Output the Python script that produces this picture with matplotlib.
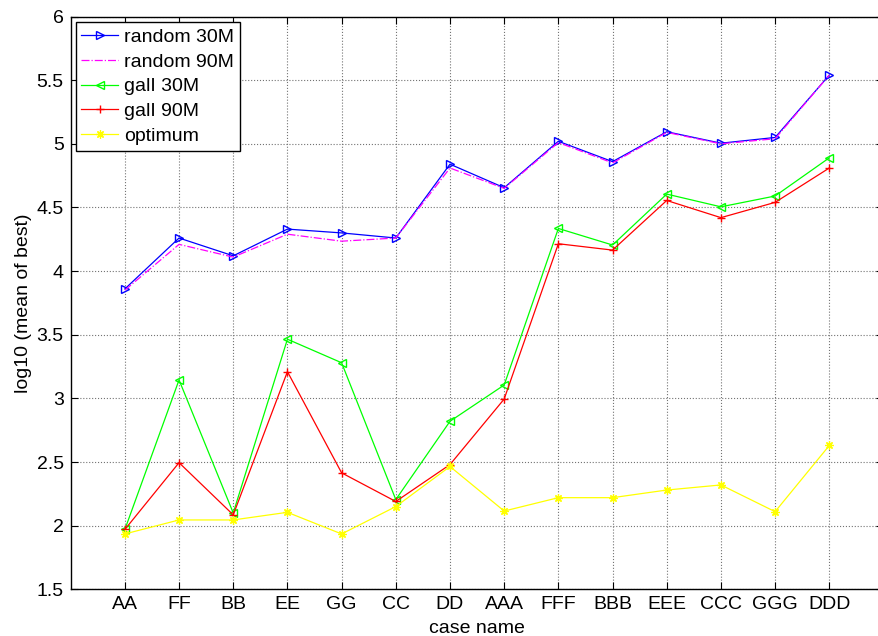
import numpy as np
import matplotlib
matplotlib.use('Agg')
import matplotlib.pyplot as plt

plt.rcParams['font.family'] = ['Liberation Sans', 'DejaVu Sans']

# case names along the x axis
cases = ['AA', 'FF', 'BB', 'EE', 'GG', 'CC', 'DD',
         'AAA', 'FFF', 'BBB', 'EEE', 'CCC', 'GGG', 'DDD']

# log10 of the mean best value per case
random_30m = [3.86, 4.26, 4.12, 4.33, 4.30, 4.26, 4.84,
              4.655, 5.02, 4.86, 5.095, 5.005, 5.05, 5.54]
random_90m = [3.85, 4.21, 4.11, 4.29, 4.235, 4.26, 4.81,
              4.65, 5.01, 4.85, 5.09, 5.00, 5.04, 5.54]
gall_30m = [1.97, 3.145, 2.10, 3.465, 3.28, 2.205, 2.82,
            3.105, 4.335, 4.205, 4.605, 4.505, 4.59, 4.89]
gall_90m = [1.97, 2.495, 2.085, 3.21, 2.415, 2.19, 2.48,
            2.995, 4.215, 4.165, 4.555, 4.42, 4.54, 4.81]
optimum = [1.935, 2.045, 2.045, 2.105, 1.935, 2.15, 2.465,
           2.115, 2.22, 2.22, 2.28, 2.32, 2.11, 2.63]

yticks = [1.5, 2, 2.5, 3, 3.5, 4, 4.5, 5, 5.5, 6]
ytick_labels = ['1.5', '2', '2.5', '3', '3.5', '4', '4.5', '5', '5.5', '6']

x = np.arange(1, len(cases) + 1)
fs = 14

fig = plt.figure(figsize=(8.79, 6.36), dpi=100)
ax = fig.add_axes([0.0804, 0.0734, 0.9247, 0.9006])

lw = 0.9
ax.plot(x, random_30m, color='#0000ff', lw=lw, marker='>', ms=6,
        mfc='none', mec='#0000ff', label='random 30M')
ax.plot(x, random_90m, color='#ff00ff', lw=lw, ls='-.', label='random 90M')
ax.plot(x, gall_30m, color='#00ff00', lw=lw, marker='<', ms=6,
        mfc='none', mec='#00ff00', label='galI 30M')
ax.plot(x, gall_90m, color='#ff0000', lw=lw, marker='+', ms=6,
        label='galI 90M')
ax.plot(x, optimum, color='#ffff00', lw=lw, marker=(8, 2, 0), ms=6,
        mew=0.9, label='optimum')

ax.set_xlim(0, 15)
ax.set_ylim(1.5, 6)
ax.set_xticks(x)
ax.set_xticklabels(cases)
ax.set_yticks(yticks)
ax.set_yticklabels(ytick_labels)
ax.tick_params(direction='in', length=5, width=0.8, labelsize=fs,
               top=True, right=True, pad=5, colors='black')
ax.grid(True, ls=':', color='0.45', lw=0.8)
for sp in ax.spines.values():
    sp.set_linewidth(1.0)

ax.set_xlabel('case name', fontsize=fs, labelpad=5)
ax.set_ylabel('log10 (mean of best)', fontsize=fs, labelpad=3)

leg = ax.legend(loc='upper left', bbox_to_anchor=(0.006, 0.99),
                fontsize=fs, frameon=True, fancybox=False,
                edgecolor='black', framealpha=1, borderpad=0.3,
                labelspacing=0.37, handlelength=1.9, handletextpad=0.3,
                borderaxespad=0)
leg.get_frame().set_linewidth(1.0)

fig.savefig('out.png', dpi=100)
